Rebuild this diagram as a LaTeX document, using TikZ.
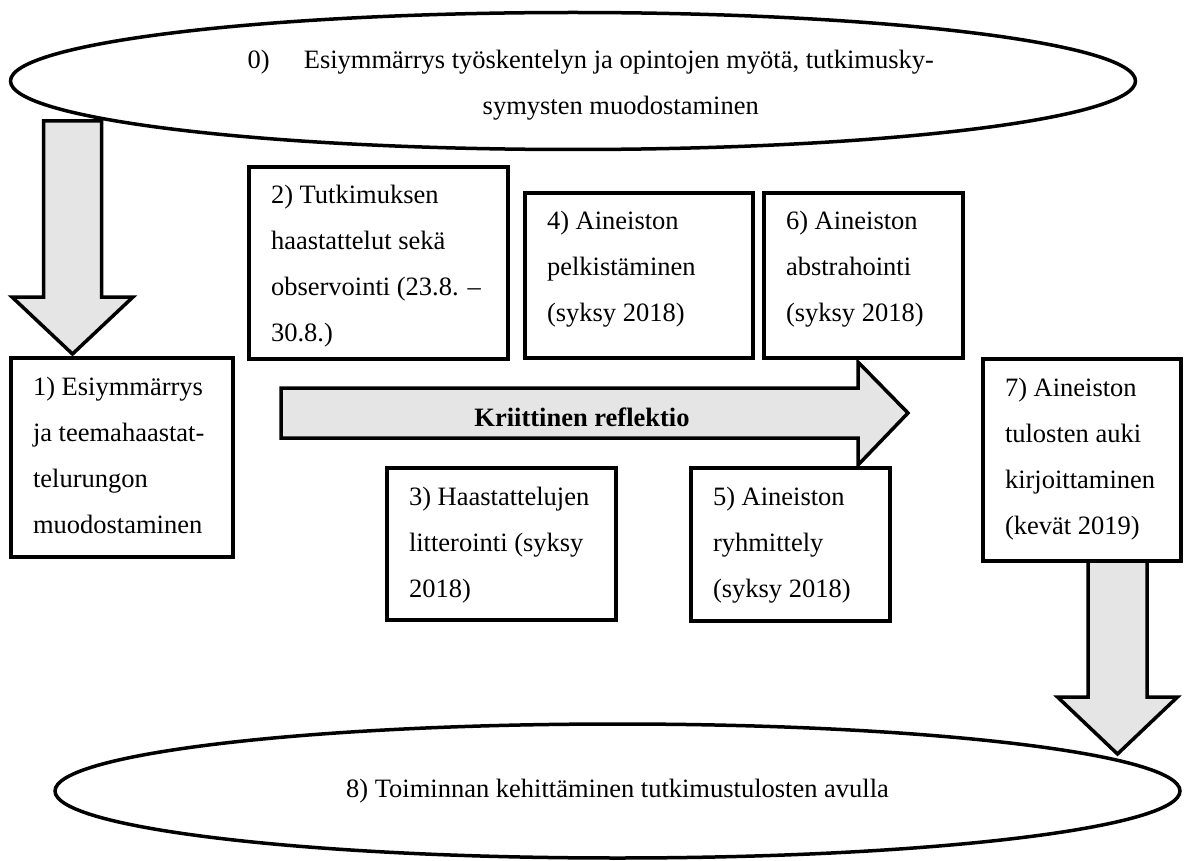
\documentclass[tikz,border=0pt]{standalone}
\usepackage{fontspec}
\setmainfont{Liberation Serif}
\usetikzlibrary{shapes.geometric}
\newcommand{\bx}[3]{\hspace*{22pt}\parbox[t][#2][t]{\dimexpr#1-22pt\relax}{\raggedright\rule{0pt}{37pt}#3}}
\begin{document}
\begin{tikzpicture}[x=1pt,y=-1pt,font={\fontsize{26.5}{46}\selectfont}]
\tikzset{
  stepbox/.style={draw,line width=3.5pt,inner sep=0pt,outer sep=0pt,anchor=north west},
  blockarrow/.style={draw,line width=3.5pt,fill=black!10,line join=miter},
  oval/.style={ellipse,draw,line width=3.5pt,inner sep=0pt,fill=white}
}
\useasboundingbox (0,0) rectangle (1189,861);
\fill[white] (0,0) rectangle (1189,861);

% block arrows
\draw[blockarrow] (43.5,121) -- (101.5,121) -- (101.5,297) -- (133,297) -- (72.5,354) -- (12,297) -- (43.5,297) -- cycle;
\draw[blockarrow] (1088,561) -- (1147,561) -- (1147,697) -- (1177.5,697) -- (1117.5,754) -- (1057.5,697) -- (1088,697) -- cycle;
\draw[blockarrow] (281,388) -- (858,388) -- (858,362) -- (908,413) -- (858,465) -- (858,438) -- (281,438) -- cycle;

% ellipses
\node[oval,minimum width=1125pt,minimum height=137pt,align=left] (e0) at (573,81)
  {\rule{0pt}{26pt}\hspace*{35.6pt}0)\hspace{34pt}Esiymmärrys työskentelyn ja opintojen myötä, tutkimusky-\\\hspace*{270.6pt}symysten muodostaminen};
\node[oval,minimum width=1125pt,minimum height=134pt] (e8) at (617.5,791)
  {8) Toiminnan kehittäminen tutkimustulosten avulla};

% boxes
\node[stepbox] (b1) at (11,358) {\bx{222pt}{199pt}{1) Esiymmärrys\\ ja teemahaastat-\\ telurungon\\ muodostaminen}};
\node[stepbox] (b2) at (249,167) {\bx{259pt}{192pt}{2) Tutkimuksen\\ haastattelut sekä\\ observointi (23.8. –\\ 30.8.)}};
\node[stepbox] (b4) at (525,193) {\bx{228pt}{165pt}{4) Aineiston\\ pelkistäminen\\ (syksy 2018)}};
\node[stepbox] (b6) at (764,193) {\bx{199pt}{165pt}{6) Aineiston\\ abstrahointi\\ (syksy 2018)}};
\node[stepbox] (b3) at (387,468) {\bx{229pt}{152pt}{3) Haastattelujen\\ litterointi (syksy\\ 2018)}};
\node[stepbox] (b5) at (691,468) {\bx{199pt}{153pt}{5) Aineiston\\ ryhmittely\\ (syksy 2018)}};
\node[stepbox] (b7) at (983,359) {\bx{198pt}{202pt}{7) Aineiston\\ tulosten auki\\ kirjoittaminen\\ (kevät 2019)}};

\node[anchor=base] (kr) at (582,426) {\textbf{Kriittinen reflektio}};
\end{tikzpicture}
\end{document}
